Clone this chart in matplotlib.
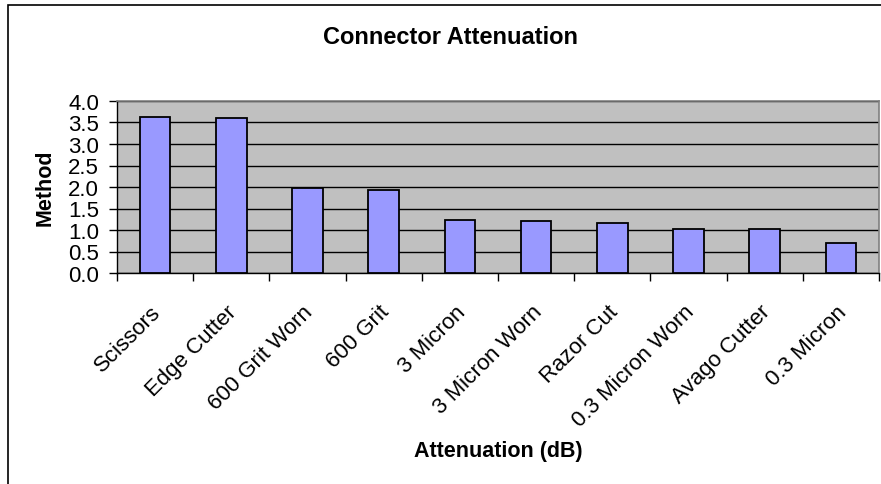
import matplotlib
matplotlib.use("Agg")
import matplotlib.pyplot as plt
import matplotlib.transforms as mtransforms
from matplotlib.patches import Rectangle
import numpy as np

plt.rcParams['font.family'] = ['Liberation Sans', 'DejaVu Sans']

methods = ["Scissors", "Edge Cutter", "600 Grit Worn", "600 Grit", "3 Micron",
           "3 Micron Worn", "Razor Cut", "0.3 Micron Worn", "Avago Cutter", "0.3 Micron"]
attenuation = [3.63, 3.60, 1.98, 1.94, 1.24, 1.20, 1.17, 1.03, 1.03, 0.70]
yticks = [0.0, 0.5, 1.0, 1.5, 2.0, 2.5, 3.0, 3.5, 4.0]

fig = plt.figure(figsize=(8.81, 4.85), dpi=100)
W, H = 881, 485

# outer chart frame (cropped on the right and bottom)
fig.patches.append(Rectangle((8 / W, -0.1), 1.2, 1 - 6 / H + 0.1, transform=fig.transFigure,
                             fill=False, edgecolor='black', linewidth=1.2))

ax = fig.add_axes([117 / W, 1 - 274 / H, (879 - 117) / W, (274 - 102) / H])
ax.set_facecolor('#C0C0C0')

x = np.arange(len(methods))
ax.bar(x, attenuation, width=0.4, color='#9999FF', edgecolor='black', linewidth=1.3, zorder=3)

ax.set_xlim(-0.5, len(methods) - 0.5)
ax.set_ylim(0, 4.0)
ax.set_yticks(yticks)
ax.set_yticklabels([f"{v:.1f}" for v in yticks], fontsize=16)
ax.yaxis.grid(True, color='black', linewidth=1.0, zorder=1)
ax.set_axisbelow(True)

# category ticks at boundaries, rotated labels at centers
ax.set_xticks(np.arange(len(methods) + 1) - 0.5)
ax.set_xticklabels([])
base = mtransforms.blended_transform_factory(ax.transData, ax.transAxes)
shift = mtransforms.ScaledTranslation(-5 / 100, -28 / 100, fig.dpi_scale_trans)
for i, name in enumerate(methods):
    ax.text(i, 0, name, transform=base + shift, rotation=45, ha='right', va='top',
            rotation_mode='anchor', fontsize=16, clip_on=False)
ax.tick_params(axis='x', length=5.5, width=1, direction='out')
ax.tick_params(axis='y', length=5.8, width=1, direction='out', pad=7)

for side in ['top', 'right']:
    ax.spines[side].set_color('#808080')
    ax.spines[side].set_linewidth(1.2)
for side in ['left', 'bottom']:
    ax.spines[side].set_color('black')
    ax.spines[side].set_linewidth(1.0)

fig.text(450 / W, 1 - 37 / H, "Connector Attenuation", ha='center', va='center',
         fontsize=17, fontweight='bold')
fig.text(498 / W, 1 - 452 / H, "Attenuation (dB)", ha='center', va='center',
         fontsize=15.5, fontweight='bold')
fig.text(45 / W, 1 - 188 / H, "Method", ha='center', va='center', rotation=90,
         fontsize=15.5, fontweight='bold')

fig.savefig('out.png', dpi=100)
